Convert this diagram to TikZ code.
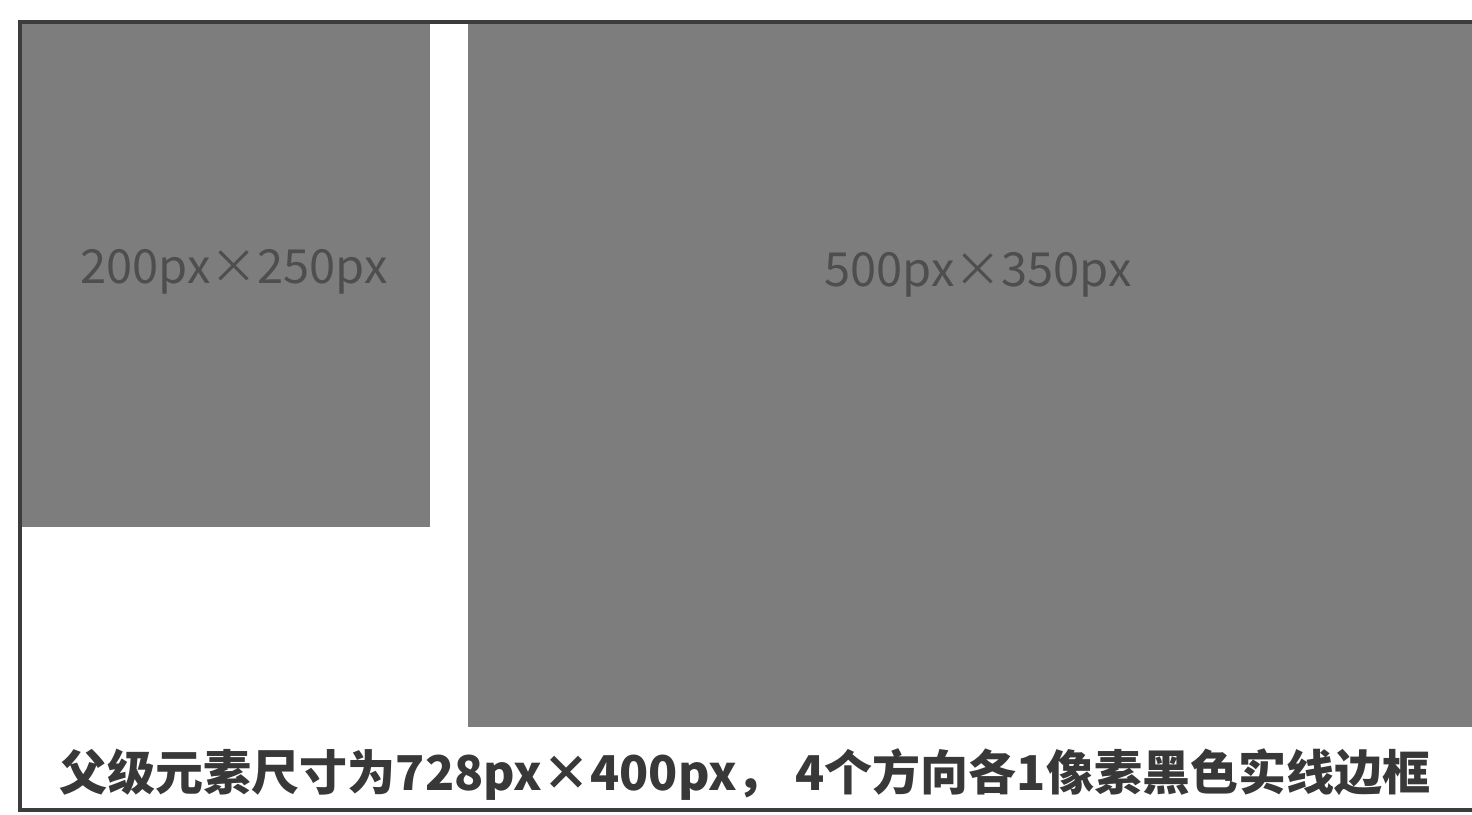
\documentclass[tikz,border=0pt]{standalone}
\usepackage{fontspec}
\setmainfont{Noto Sans CJK SC}
\newfontfamily\cjk{Noto Sans CJK SC}
\definecolor{boxgray}{RGB}{125,125,125}
\definecolor{labgray}{RGB}{78,78,78}
\definecolor{edge}{RGB}{60,60,60}
\begin{document}
\begin{tikzpicture}[x=1pt,y=-1pt,
  lab/.style={text=labgray,font=\cjk\fontsize{47}{52}\selectfont,inner sep=0pt},
  captext/.style={text=black!78,font=\cjk\bfseries\fontsize{48}{52}\selectfont,inner sep=0pt}]
\useasboundingbox (0,0) rectangle (1472,814);
\fill[white] (0,0) rectangle (1472,814);
% children
\fill[boxgray] (22,24) rectangle (430,527);
\fill[boxgray] (468,24) rectangle (1472,727);
\node[lab] (a) at (234,272) {200px×250px};
\node[lab] (b) at (978,275) {500px×350px};
% parent border
\draw[edge,line width=4pt] (1474,22) -- (20,22) -- (20,810) -- (1474,810);
\node[captext] (c) at (745,775) {父级元素尺寸为728px×400px， 4个方向各1像素黑色实线边框};
\end{tikzpicture}
\end{document}
